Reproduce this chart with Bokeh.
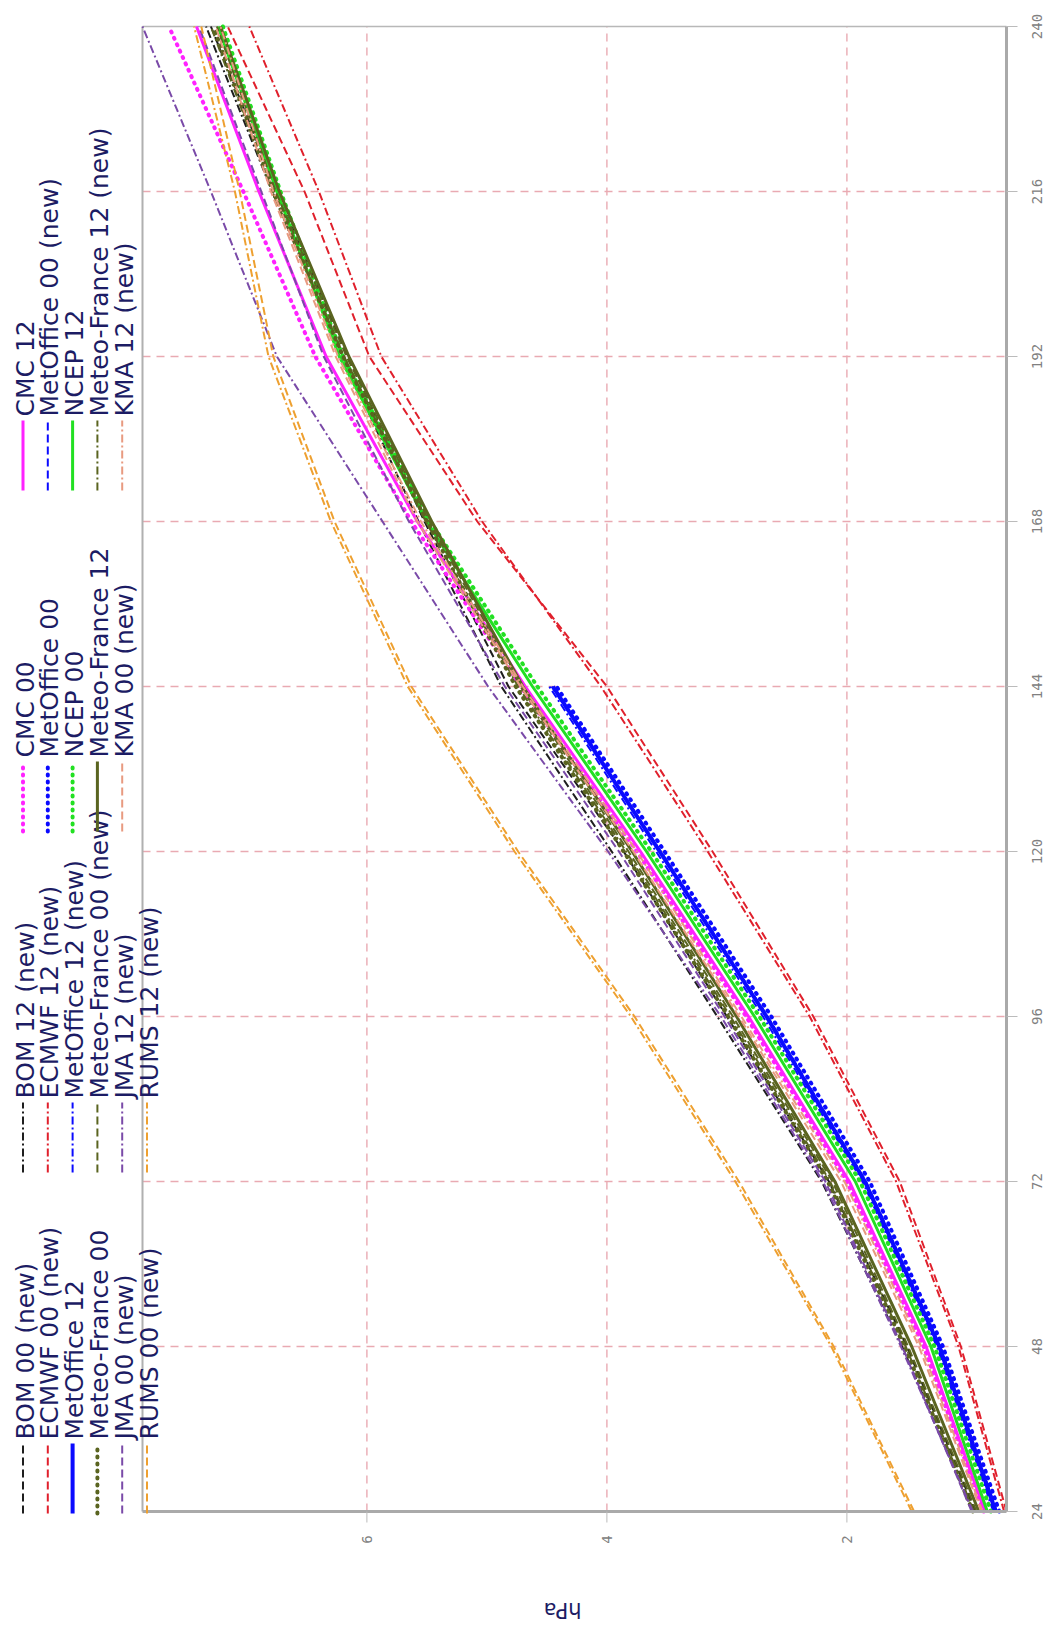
import math
from bokeh.plotting import figure
from bokeh.models import Range1d
from bokeh.core.properties import value
from bokeh.embed import file_html
from bokeh.resources import INLINE

# ---------------- data ----------------
hours = [24, 48, 72, 96, 120, 144, 168, 192, 216, 240]

bom_00_new = [0.93, 1.50, 2.15, 3.00, 3.86, 4.82, 5.52, 6.16, 6.75, 7.30]
bom_12_new = [0.95, 1.54, 2.21, 3.08, 3.96, 4.88, 5.57, 6.20, 6.79, 7.34]
cmc_00 = [0.86, 1.36, 2.00, 2.84, 3.75, 4.72, 5.63, 6.43, 7.03, 7.65]
cmc_12 = [0.85, 1.34, 1.98, 2.82, 3.72, 4.68, 5.58, 6.34, 6.90, 7.42]
ecmwf_00_new = [0.67, 1.05, 1.56, 2.28, 3.12, 4.00, 5.08, 5.98, 6.52, 7.16]
ecmwf_12_new = [0.69, 1.07, 1.59, 2.31, 3.16, 4.05, 5.04, 5.88, 6.40, 6.98]
metoffice_00 = [0.73, 1.20, 1.81, 2.63, 3.52, 4.42]
metoffice_00_new = [0.75, 1.22, 1.84, 2.66, 3.55, 4.46]
metoffice_12 = [0.76, 1.23, 1.85, 2.67, 3.56, 4.45]
metoffice_12_new = [0.78, 1.25, 1.87, 2.70, 3.59, 4.48]
ncep_00 = [0.80, 1.27, 1.89, 2.73, 3.63, 4.58, 5.47, 6.20, 6.72, 7.20]
ncep_12 = [0.83, 1.30, 1.93, 2.77, 3.67, 4.62, 5.50, 6.23, 6.75, 7.24]
mf_00 = [0.95, 1.52, 2.16, 2.99, 3.86, 4.76, 5.50, 6.20, 6.78, 7.28]
mf_00_new = [0.92, 1.49, 2.12, 2.95, 3.82, 4.72, 5.48, 6.17, 6.76, 7.25]
mf_12 = [0.90, 1.46, 2.10, 2.92, 3.79, 4.70, 5.46, 6.15, 6.73, 7.22]
mf_12_new = [0.94, 1.51, 2.14, 2.97, 3.84, 4.74, 5.51, 6.19, 6.79, 7.30]
jma_00_new = [0.96, 1.54, 2.18, 3.02, 3.90, 4.85, 5.65, 6.36, 6.88, 7.40]
jma_12_new = [0.95, 1.55, 2.20, 3.05, 3.99, 4.99, 5.87, 6.75, 7.30, 7.87]
kma_00_new = [0.88, 1.40, 2.05, 2.90, 3.78, 4.72, 5.58, 6.26, 6.80, 7.26]
kma_12_new = [0.87, 1.38, 2.02, 2.88, 3.75, 4.70, 5.55, 6.24, 6.78, 7.22]
rums_00_new = [1.44, 2.11, 2.90, 3.77, 4.74, 5.63, 6.27, 6.78, 7.06, 7.38]
rums_12_new = [1.46, 2.13, 2.93, 3.80, 4.77, 5.66, 6.30, 6.82, 7.10, 7.44]

hpa_ticks = [2, 4, 6]
hpa_tick_labels = ["2", "4", "6"]
hour_ticks = [24, 48, 72, 96, 120, 144, 168, 192, 216, 240]
hour_tick_labels = ["24", "48", "72", "96", "120", "144", "168", "192", "216", "240"]
axis_title = "hPa"

BLACK = "#1e1e1e"
RED = "#e0202c"
BLUE = "#0a0aff"
GREEN = "#22e022"
MAGENTA = "#ff22ff"
OLIVE = "#5a6420"
PURPLE = "#7a4aa8"
SALMON = "#e89a80"
ORANGE = "#eea030"
TEXT = "#1c1c64"
TICKTXT = "#808080"
AXIS = "#aaaaaa"
TICK = "#bbbbbb"

DASH = "8 4"
DASHDOT = "8 3 2 3"
DOT = "1 6"
SOLID = "solid"

series = [
    ("BOM 00 (new)", bom_00_new, BLACK, DASH, 2),
    ("BOM 12 (new)", bom_12_new, BLACK, DASHDOT, 2),
    ("CMC 00", cmc_00, MAGENTA, DOT, 4),
    ("CMC 12", cmc_12, MAGENTA, SOLID, 3),
    ("ECMWF 00 (new)", ecmwf_00_new, RED, DASH, 2),
    ("ECMWF 12 (new)", ecmwf_12_new, RED, DASHDOT, 2),
    ("MetOffice 00", metoffice_00, BLUE, DOT, 4),
    ("MetOffice 00 (new)", metoffice_00_new, BLUE, DASH, 2),
    ("MetOffice 12", metoffice_12, BLUE, SOLID, 4),
    ("MetOffice 12 (new)", metoffice_12_new, BLUE, DASHDOT, 2),
    ("NCEP 00", ncep_00, GREEN, DOT, 4),
    ("NCEP 12", ncep_12, GREEN, SOLID, 3),
    ("Meteo-France 00", mf_00, OLIVE, DOT, 4),
    ("Meteo-France 00 (new)", mf_00_new, OLIVE, DASH, 2),
    ("Meteo-France 12", mf_12, OLIVE, SOLID, 3),
    ("Meteo-France 12 (new)", mf_12_new, OLIVE, DASHDOT, 2),
    ("JMA 00 (new)", jma_00_new, PURPLE, DASH, 2),
    ("JMA 12 (new)", jma_12_new, PURPLE, DASHDOT, 2),
    ("KMA 00 (new)", kma_00_new, SALMON, DASH, 2),
    ("KMA 12 (new)", kma_12_new, SALMON, DASHDOT, 2),
    ("RUMS 00 (new)", rums_00_new, ORANGE, DASH, 2),
    ("RUMS 12 (new)", rums_12_new, ORANGE, DASHDOT, 2),
]

# ---------------- layout ----------------
LEGEND_W = 142          # strip on the left (px) holding the legend
PLOT_W = 864            # width of the actual plot area (px)
RIGHT_STRIP = 44        # strip on the right for the hour axis (px)
TOP_STRIP = 26          # empty strip above the plot area (px)
PLOT_H = 1485           # height of the actual plot area (px)
BOTTOM_STRIP = 117      # strip below the plot for the hPa axis (px)
FRAME_W = LEGEND_W + PLOT_W + RIGHT_STRIP
FRAME_H = TOP_STRIP + PLOT_H + BOTTOM_STRIP
PLOT_BOTTOM = TOP_STRIP + PLOT_H

all_vals = [v for s in series for v in s[1]]
vmax, vmin = max(all_vals), min(all_vals)
px_per_unit = PLOT_W / (vmax - vmin)
x_start = vmax + LEGEND_W / px_per_unit
x_end = vmin - RIGHT_STRIP / px_per_unit
h0, h1 = hour_ticks[0], hour_ticks[-1]
y_start = h0 - (h1 - h0) * BOTTOM_STRIP / PLOT_H
y_end = h1 + (h1 - h0) * TOP_STRIP / PLOT_H

p = figure(width=FRAME_W, height=FRAME_H,
           x_range=Range1d(x_start, x_end), y_range=Range1d(y_start, y_end),
           y_axis_location=None, x_axis_location=None,
           output_backend="svg", toolbar_location=None,
           min_border_left=0, min_border_top=0,
           min_border_right=0, min_border_bottom=0)
p.outline_line_color = None
p.xgrid.visible = False
p.ygrid.visible = False
p.background_fill_color = "white"

# pixel ranges (measured from the frame's top-left corner)
p.extra_x_ranges = {"px": Range1d(0, FRAME_W)}
p.extra_y_ranges = {"py": Range1d(FRAME_H, 0)}

GRID = "#e9aab2"
# grid lines
p.segment(x0=hpa_ticks, x1=hpa_ticks, y0=[h0] * 3, y1=[h1] * 3,
          line_color=GRID, line_dash="8 6", line_width=1.4)
inner_hours = hour_ticks[1:-1]
p.segment(x0=[vmax] * len(inner_hours), x1=[vmin] * len(inner_hours),
          y0=inner_hours, y1=inner_hours,
          line_color=GRID, line_dash="8 6", line_width=1.4)
# frame borders (left = top of original, top = right of original)
p.segment(x0=[vmax], x1=[vmax], y0=[h0], y1=[h1], line_color="#b0b0b0", line_width=2)
p.segment(x0=[vmax], x1=[vmin], y0=[h1], y1=[h1], line_color="#b8b8b8", line_width=1.5)

# data lines
for name, vals, color, dash, w in series:
    hh = hours[:len(vals)]
    p.line(x=vals, y=hh, line_color=color, line_width=w,
           line_dash=dash, line_cap="round" if dash == DOT else "butt")

# bottom axis (hPa), drawn rotated like the original
p.segment(x0=[vmax], x1=[vmin], y0=[h0], y1=[h0], line_color=AXIS, line_width=3)
p.segment(x0=hpa_ticks, x1=hpa_ticks, y0=[PLOT_BOTTOM] * 3, y1=[PLOT_BOTTOM + 11] * 3,
          line_color=TICK, line_width=1, y_range_name="py")
p.text(x=hpa_ticks, y=[PLOT_BOTTOM + 28] * 3, text=hpa_tick_labels, angle=math.pi / 2,
       text_align="center", text_baseline="middle",
       text_font=value("DejaVu Sans Mono"), text_font_size="14px",
       text_color=TICKTXT, y_range_name="py")
p.text(x=[(vmin + vmax) / 2 + 0.1], y=[PLOT_BOTTOM + 98], text=[axis_title], angle=math.pi,
       text_align="center", text_baseline="middle",
       text_font=value("DejaVu Sans"), text_font_size="21px",
       text_color=TEXT, y_range_name="py")

# right axis (forecast hours), drawn rotated like the original
AX_X = LEGEND_W + PLOT_W
p.segment(x0=[vmin], x1=[vmin], y0=[h0], y1=[h1], line_color=AXIS, line_width=3)
p.segment(x0=[AX_X] * len(hour_ticks), x1=[AX_X + 11] * len(hour_ticks),
          y0=hour_ticks, y1=hour_ticks, line_color=TICK, line_width=1,
          x_range_name="px")
p.text(x=[AX_X + 30] * len(hour_ticks), y=hour_ticks, text=hour_tick_labels,
       angle=math.pi / 2, text_align="center", text_baseline="middle",
       text_font=value("DejaVu Sans Mono"), text_font_size="14px",
       text_color=TICKTXT, x_range_name="px")

# legend (rotated, in the left strip)
COL_X0, COL_DX = 24.5, 24.8
ITEM_Y0, ITEM_DY, SAMPLE_L = PLOT_BOTTOM + 2, 341, 70
for k, (name, vals, color, dash, w) in enumerate(series):
    c, j = divmod(k, 4)
    cx = COL_X0 + COL_DX * c
    ybot = ITEM_Y0 - ITEM_DY * j
    p.segment(x0=[cx - 2], x1=[cx - 2], y0=[ybot], y1=[ybot - SAMPLE_L],
              line_color=color, line_width=w, line_dash=dash,
              line_cap="round" if dash == DOT else "butt",
              x_range_name="px", y_range_name="py")
    p.text(x=[cx], y=[ybot - SAMPLE_L - 4], text=[name], angle=math.pi / 2,
           text_align="left", text_baseline="middle",
           text_font=value("DejaVu Sans"), text_font_size="25px",
           text_color=TEXT, x_range_name="px", y_range_name="py")

open("out.html", "w").write(file_html(p, INLINE))
